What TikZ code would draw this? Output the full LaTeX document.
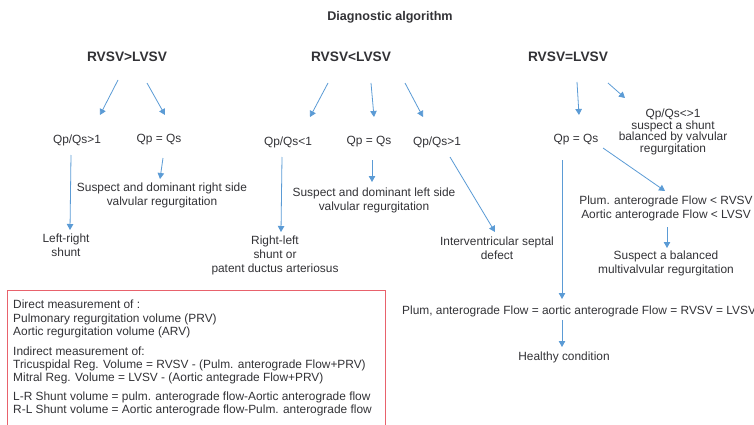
\documentclass[tikz,border=0pt]{standalone}
\usepackage{fontspec}
\setmainfont{Liberation Sans}
\usetikzlibrary{arrows.meta, calc}
\definecolor{txtgray}{RGB}{50,50,54}
\definecolor{arrblue}{RGB}{91,155,213}
\definecolor{boxred}{RGB}{232,98,108}

\begin{document}
\begin{tikzpicture}[x=1pt, y=-1pt, >={Triangle[length=6pt,width=6.5pt]},
   every node/.style={text=txtgray, inner sep=1pt, font=\fontsize{11.9}{14}\selectfont},
   head/.style={font=\bfseries\fontsize{13.7}{15}\selectfont},
   ttl/.style={font=\bfseries\fontsize{12.6}{14}\selectfont},
   txt/.style={align=center},
   tight/.style={align=center, font=\fontsize{11.9}{11.6}\selectfont},
   note/.style={anchor=west, align=left, font=\fontsize{11.9}{13.4}\selectfont},
   arr/.style={->, draw=arrblue, line width=0.8pt}]
   \useasboundingbox (0,0) rectangle (754,425);

   \node[ttl] (title) at (390,17) {Diagnostic algorithm};
   \node[head] (h1) at (127,57) {RVSV>LVSV};
   \node[head] (h2) at (351,57) {RVSV<LVSV};
   \node[head] (h3) at (568,57) {RVSV=LVSV};

   \node (qa) at (77,140) {Qp/Qs>1};
   \node (qb) at (159,140) {Qp = Qs};
   \node (qc) at (288,142) {Qp/Qs<1};
   \node (qd) at (369,142) {Qp = Qs};
   \node (qe) at (437,142) {Qp/Qs>1};
   \node (qf) at (576,140) {Qp = Qs};
   \node[tight] (qg) at (673,132) {Qp/Qs<>1\\suspect a shunt\\balanced by valvular\\regurgitation};

   \node[txt] (ra) at (162,195) {Suspect and dominant right side\\valvular regurgitation};
   \node[txt] (rb) at (66,245) {Left-right\\shunt};
   \node[txt] (rc) at (275,255) {Right-left\\shunt or\\patent ductus arteriosus};
   \node[txt] (rd) at (374,200) {Suspect and dominant left side\\valvular regurgitation};
   \node[txt] (re) at (497,248) {Interventricular septal\\defect};
   \node[txt] (rf) at (666,208) {Plum. anterograde Flow < RVSV\\Aortic anterograde Flow < LVSV};
   \node[txt] (rg) at (666,263) {Suspect a balanced\\multivalvular regurgitation};
   \node[anchor=west] (rh) at (401,311) {Plum, anterograde Flow = aortic anterograde Flow = RVSV = LVSV};
   \node (ri) at (564,357) {Healthy condition};

   \draw[boxred, line width=0.8pt] (7,290) rectangle (385,440);
   \node[note] (m1) at (12,319) {Direct measurement of :\\Pulmonary regurgitation volume (PRV)\\Aortic regurgitation volume (ARV)};
   \node[note] (m2) at (12,365.5) {Indirect measurement of:\\Tricuspidal Reg. Volume = RVSV - (Pulm. anterograde Flow+PRV)\\Mitral Reg. Volume = LVSV - (Aortic antegrade Flow+PRV)};
   \node[note] (m3) at (12,404) {L-R Shunt volume = pulm. anterograde flow-Aortic anterograde flow\\R-L Shunt volume = Aortic anterograde flow-Pulm. anterograde flow};

   \draw[arr] ($(h1)+(-9,23)$) -- ($(qa)+(23,-25)$);
   \draw[arr] ($(h1)+(20,26)$) -- ($(qb)+(6,-25)$);
   \draw[arr] ($(h2)+(-23,26)$) -- ($(qc)+(22,-25)$);
   \draw[arr] ($(h2)+(20,26)$) -- ($(qd)+(5,-25)$);
   \draw[arr] ($(h2)+(54,26)$) -- ($(qe)+(-14,-25)$);
   \draw[arr] ($(h3)+(9,25)$) -- ($(qf)+(3,-25)$);
   \draw[arr] ($(h3)+(40,26)$) -- ($(qg)+(-48,-34)$);

   \draw[arr] ($(qa)+(-6,15)$) -- ($(rb)+(4,-15)$);
   \draw[arr] ($(qb)+(4,18)$) -- ($(ra)+(-2,-16)$);
   \draw[arr] ($(qc)+(-6,15)$) -- ($(rc)+(6,-23)$);
   \draw[arr] ($(qd)+(3,18)$) -- ($(rd)+(-2,-18)$);
   \draw[arr] ($(qe)+(13,15)$) -- ($(re)+(-2,-16)$);
   \draw[arr] ($(qf)+(-14,20)$) -- ($(rh.west)+(161,-12)$);
   \draw[arr] ($(qf)+(27,8)$) -- ($(rf)+(-1,-17)$);
   \draw[arr] ($(rf)+(1,19)$) -- ($(rg)+(1,-15)$);
   \draw[arr] ($(rh.west)+(161,9)$) -- ($(ri)+(-2,-10)$);
\end{tikzpicture}
\end{document}
